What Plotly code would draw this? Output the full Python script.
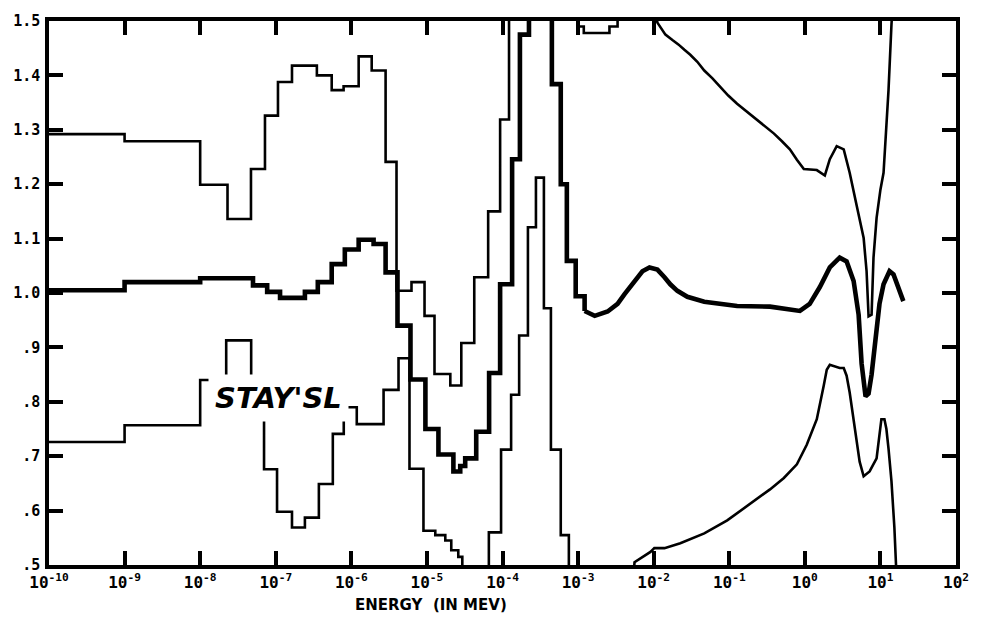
import plotly.graph_objects as go

# Energy grid in MeV and spectrum ratios for the three STAY'SL curves.
# Low-energy parts are multigroup (stepped); high-energy parts are fine-grid.

upper_step_e = [1e-10, 1e-9, 1e-8, 2.3e-8, 4.7e-8, 7.2e-8, 1.07e-7, 1.64e-7, 3.5e-7, 5.5e-7,
                7.9e-7, 1.25e-6, 1.86e-6, 2.84e-6, 3.96e-6, 6.25e-6, 9.3e-6, 1.26e-5, 2.04e-5,
                2.85e-5, 4.23e-5, 6.46e-5, 9.3e-5, 1.22e-4, 9.9e-4, 1.19e-3, 2.6e-3, 3.33e-3]
upper_step_v = [1.292, 1.279, 1.199, 1.136, 1.228, 1.326, 1.388, 1.418, 1.40, 1.373,
                1.38, 1.435, 1.409, 1.241, 1.004, 1.02, 0.958, 0.851, 0.83,
                0.908, 1.029, 1.15, 1.319, 1.6, 1.49, 1.478, 1.49, 1.6]
upper_fine_e = [3.33e-3, 1.05e-2, 1.12e-2, 1.43e-2, 1.77e-2, 2.12e-2, 2.55e-2, 3.05e-2, 3.78e-2,
                4.67e-2, 5.95e-2, 7.6e-2, 9.7e-2, 0.127, 0.162, 0.213, 0.288, 0.391, 0.498,
                0.634, 0.785, 0.97, 1.44, 1.84, 2.14, 2.64, 3.27, 3.92, 4.85, 6.0, 6.56,
                6.97, 7.64, 8.1, 8.9, 10.0, 11.0, 12.0, 12.8, 14.0, 14.9]
upper_fine_v = [1.6, 1.52, 1.497, 1.475, 1.465, 1.457, 1.447, 1.438, 1.425,
                1.409, 1.395, 1.379, 1.363, 1.348, 1.336, 1.324, 1.309, 1.293, 1.279,
                1.264, 1.245, 1.228, 1.226, 1.216, 1.246, 1.27, 1.264, 1.221, 1.161, 1.101, 1.04,
                0.957, 0.96, 1.065, 1.138, 1.19, 1.221, 1.3, 1.373, 1.493, 1.56]

mid_step_e = [1e-10, 1e-9, 1e-8, 5.0e-8, 7.7e-8, 1.14e-7, 2.43e-7, 3.6e-7, 5.5e-7, 8.2e-7,
              1.25e-6, 1.97e-6, 2.84e-6, 4.08e-6, 6.06e-6, 9.55e-6, 1.42e-5, 2.24e-5, 2.76e-5,
              3.21e-5, 4.49e-5, 6.65e-5, 9.3e-5, 1.34e-4, 1.7e-4, 2.24e-4, 4.5e-4, 5.9e-4,
              7.1e-4, 9.3e-4, 1.22e-3]
mid_step_v = [1.005, 1.02, 1.027, 1.014, 1.002, 0.991, 1.002, 1.02, 1.053, 1.08,
              1.098, 1.09, 1.038, 0.94, 0.841, 0.75, 0.703, 0.672, 0.682,
              0.696, 0.745, 0.853, 1.016, 1.246, 1.475, 1.6, 1.384, 1.2,
              1.059, 0.994, 0.967]
mid_fine_e = [1.22e-3, 1.66e-3, 2.46e-3, 3.33e-3, 4.12e-3, 5.58e-3, 7.1e-3, 8.8e-3, 1.12e-2,
              1.39e-2, 1.66e-2, 2.06e-2, 2.79e-2, 4.67e-2, 0.127, 0.346, 0.86, 1.16, 1.58,
              2.14, 2.89, 3.57, 4.42, 5.15, 5.64, 6.36, 6.97, 7.64, 8.61, 9.72, 11.0, 13.2,
              14.9, 17.3, 20.1]
mid_fine_v = [0.967, 0.958, 0.966, 0.98, 0.998, 1.022, 1.04, 1.047, 1.043,
              1.029, 1.016, 1.004, 0.993, 0.984, 0.976, 0.975, 0.967, 0.98, 1.011,
              1.047, 1.065, 1.058, 1.022, 0.96, 0.87, 0.81, 0.815, 0.85, 0.92, 0.98, 1.016, 1.04,
              1.034, 1.011, 0.985]

lower_step_e = [1e-10, 1e-9, 1e-8, 2.21e-8, 4.73e-8, 7.0e-8, 1.04e-7, 1.64e-7, 2.43e-7, 3.72e-7,
                5.69e-7, 7.94e-7, 1.18e-6, 2.67e-6, 4.21e-6, 5.88e-6, 9.0e-6, 1.29e-5, 1.75e-5,
                2.1e-5, 2.6e-5, 2.94e-5, 6.6e-5, 9.57e-5, 1.3e-4, 1.66e-4, 2.17e-4, 2.77e-4,
                3.53e-4, 4.37e-4, 5.9e-4, 7.55e-4]
lower_step_v = [0.726, 0.757, 0.84, 0.913, 0.84, 0.676, 0.598, 0.569, 0.587, 0.649,
                0.741, 0.79, 0.759, 0.822, 0.88, 0.677, 0.563, 0.555, 0.545,
                0.527, 0.515, 0.4, 0.56, 0.712, 0.813, 0.922, 1.121, 1.212,
                0.972, 0.712, 0.555, 0.4]
lower_fine_e = [7.55e-4, 4.9e-3, 5.58e-3, 7.1e-3, 9.07e-3, 1.02e-2, 1.39e-2, 2.25e-2, 4.67e-2,
                9.4e-2, 0.188, 0.346, 0.528, 0.785, 1.06, 1.44, 1.78, 1.95, 2.14, 2.89, 3.27,
                3.57, 3.92, 4.42, 4.85, 5.31, 6.0, 7.19, 8.9, 9.73, 10.3, 11.3, 12.0, 12.8,
                14.0, 15.3, 16.3, 17.3]
lower_fine_v = [0.4, 0.4, 0.505, 0.515, 0.524, 0.531, 0.531, 0.54, 0.558,
                0.582, 0.612, 0.639, 0.66, 0.685, 0.721, 0.768, 0.83, 0.859, 0.868, 0.862, 0.862,
                0.848, 0.817, 0.763, 0.726, 0.69, 0.663, 0.672, 0.696, 0.739, 0.768, 0.768, 0.75, 0.714,
                0.654, 0.569, 0.504, 0.4]

x_tick_exponents = list(range(-10, 3))
y_tick_values = [0.5, 0.6, 0.7, 0.8, 0.9, 1.0, 1.1, 1.2, 1.3, 1.4, 1.5]
y_tick_labels = [".5", ".6", ".7", ".8", ".9", "1.0", "1.1", "1.2", "1.3", "1.4", "1.5"]

THIN = 2.6
THICK = 4.6

fig = go.Figure()

curves = [
    (upper_step_e, upper_step_v, "hv", THIN),
    (upper_fine_e, upper_fine_v, "linear", THIN),
    (mid_step_e, mid_step_v, "hv", THICK),
    (mid_fine_e, mid_fine_v, "linear", THICK),
    (lower_step_e, lower_step_v, "hv", THIN),
    (lower_fine_e, lower_fine_v, "linear", THIN),
]
for e, v, shape, w in curves:
    fig.add_trace(go.Scatter(x=e, y=v, mode="lines",
                             line=dict(color="black", width=w, shape=shape),
                             showlegend=False, hoverinfo="skip"))

tick_font = dict(family="DejaVu Sans Mono", size=15, color="black", weight="bold")

fig.update_xaxes(
    type="log", range=[-10, 2],
    tickvals=[10.0 ** k for k in x_tick_exponents],
    ticktext=[f"10<sup>{k}</sup>" for k in x_tick_exponents],
    ticks="inside", ticklen=14, tickwidth=3.5, tickcolor="black",
    showline=True, linewidth=3.5, linecolor="black", mirror="ticks",
    showgrid=False, zeroline=False, tickfont=dict(tick_font, size=16),
)
fig.update_yaxes(
    range=[0.5, 1.5],
    tickvals=y_tick_values, ticktext=y_tick_labels,
    ticks="inside", ticklen=14, tickwidth=3.5, tickcolor="black",
    showline=True, linewidth=3.5, linecolor="black", mirror="ticks",
    showgrid=False, zeroline=False, tickfont=tick_font, ticklabelstandoff=2,
)

# Plot-area size in pixels, used to place the axis caption below the frame
plot_w = 981 - 49 - 21
plot_h = 631 - 13 - 66

fig.add_annotation(
    x=-6.97, y=0.807, xref="x", yref="y", text="<i>STAY'SL</i>", showarrow=False,
    font=dict(family="DejaVu Sans", size=29, color="black", weight="bold"),
    bgcolor="white", borderpad=6,
)
fig.add_annotation(
    x=(433 - 49) / plot_w, y=(565 - 606) / plot_h, xref="paper", yref="paper",
    xanchor="center", yanchor="middle",
    text="ENERGY  (IN MEV)", showarrow=False,
    font=dict(family="DejaVu Sans", size=15, color="black", weight="bold"),
)

fig.update_layout(
    width=981, height=631,
    margin=dict(l=49, r=21, t=13, b=66),
    paper_bgcolor="white", plot_bgcolor="white",
)

fig.write_html("out.html")
